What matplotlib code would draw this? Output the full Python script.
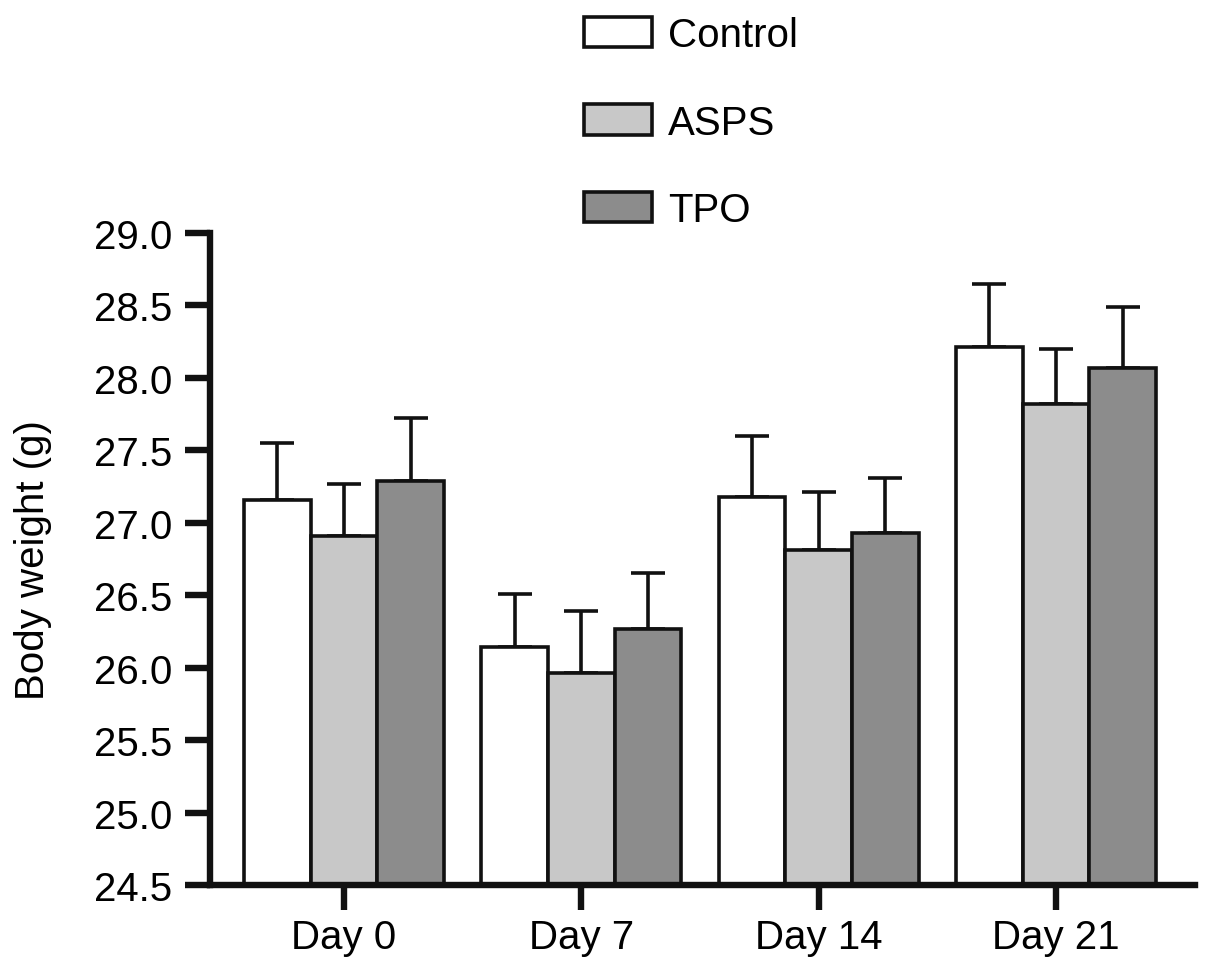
import matplotlib
matplotlib.use("Agg")
import matplotlib.pyplot as plt
import numpy as np

plt.rcParams['font.family'] = ['Liberation Sans', 'DejaVu Sans']

# data
days = ["Day 0", "Day 7", "Day 14", "Day 21"]
groups = ["Control", "ASPS", "TPO"]
control = [27.16, 26.14, 27.18, 28.21]
control_err = [0.39, 0.37, 0.42, 0.44]
asps = [26.91, 25.96, 26.81, 27.82]
asps_err = [0.36, 0.43, 0.40, 0.38]
tpo = [27.29, 26.27, 26.93, 28.07]
tpo_err = [0.43, 0.38, 0.38, 0.42]

colors = ["#ffffff", "#c8c8c8", "#8c8c8c"]
edge = "#111111"

fig = plt.figure(figsize=(12.05, 9.78), dpi=100)
ax = fig.add_axes([0.1739, 0.0941, 0.9914 - 0.1739, 0.7607 - 0.0941])

x = np.arange(len(days))
w = 0.281
series = [(control, control_err), (asps, asps_err), (tpo, tpo_err)]
for i, (vals, errs) in enumerate(series):
    pos = x + (i - 1) * w
    ax.bar(pos, np.array(vals) - 24.5, bottom=24.5, width=w, color=colors[i],
           edgecolor=edge, linewidth=2.6, label=groups[i], zorder=2)
    ax.errorbar(pos, vals, yerr=[np.zeros(len(errs)), errs], fmt='none',
                ecolor=edge, elinewidth=2.6, capsize=12, capthick=2.6, zorder=1)

ax.set_xlim(-0.567, 3.584)
ax.set_ylim(24.5, 29.0)
ax.set_yticks(np.arange(24.5, 29.01, 0.5))
ax.set_yticklabels([f"{v:.1f}" for v in np.arange(24.5, 29.01, 0.5)])
ax.set_xticks(x)
ax.set_xticklabels(days)

for s in ["top", "right"]:
    ax.spines[s].set_visible(False)
for s in ["left", "bottom"]:
    ax.spines[s].set_linewidth(4.6)
    ax.spines[s].set_color(edge)
ax.tick_params(axis='both', labelsize=29, width=4.6, length=18, color=edge, pad=6)
ax.tick_params(axis='y', pad=9)
ax.set_ylabel("Body weight (g)", fontsize=29, labelpad=30)

fig.legend(loc="upper left", bbox_to_anchor=(584 / 1205, 1 - 17 / 978),
           frameon=False, fontsize=29, handlelength=1.69, handleheight=0.79,
           handletextpad=0.4, labelspacing=1.23, borderpad=0, borderaxespad=0)

fig.savefig("out.png", dpi=100)
